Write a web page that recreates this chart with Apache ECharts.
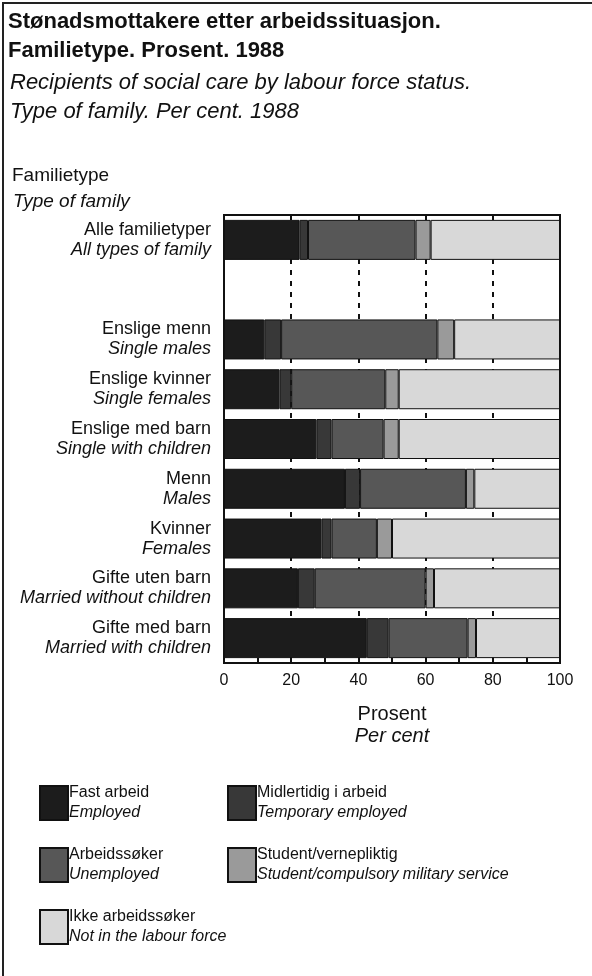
<!DOCTYPE html>
<html>
<head>
<meta charset="utf-8">
<script src="https://cdn.jsdelivr.net/npm/echarts@6/dist/echarts.min.js"></script>
<style>
  html, body { margin: 0; padding: 0; background: #fff; }
  #chart { width: 592px; height: 976px; }
</style>
</head>
<body>
<div id="chart"></div>
<script>
// family types, top to bottom ('' = empty spacer row)
const categories = ['Alle familietyper', '', 'Enslige menn', 'Enslige kvinner', 'Enslige med barn', 'Menn', 'Kvinner', 'Gifte uten barn', 'Gifte med barn'];
const categoriesEn = ['All types of family', '', 'Single males', 'Single females', 'Single with children', 'Males', 'Females', 'Married without children', 'Married with children'];

// per cent
const fastArbeid = [22.5, null, 12, 16.5, 27.5, 36, 29, 22, 42.5];
const midlertidig = [2.5, null, 5, 3.5, 4.5, 4.5, 3, 5, 6.5];
const arbeidssoker = [32, null, 46.5, 28, 15.5, 31.5, 13.5, 33, 23.5];
const student = [4.5, null, 5, 4, 4.5, 2.5, 4.5, 2.5, 2.5];
const ikkeArbeidssoker = [38.5, null, 31.5, 48, 48, 25.5, 50, 37.5, 25];

const seriesNames = ['Fast arbeid', 'Midlertidig i arbeid', 'Arbeidssøker', 'Student/vernepliktig', 'Ikke arbeidssøker'];
const seriesNamesEn = ['Employed', 'Temporary employed', 'Unemployed', 'Student/compulsory military service', 'Not in the labour force'];
const seriesColors = ['#1c1c1c', '#383838', '#575757', '#9a9a9a', '#d8d8d8'];
const seriesData = [fastArbeid, midlertidig, arbeidssoker, student, ikkeArbeidssoker];

const font = 'Liberation Sans, Arial, sans-serif';

const chart = echarts.init(document.getElementById('chart'), null, { renderer: 'canvas' });

const legendRich = {
  a: { fontFamily: font, fontSize: 16, color: '#111', lineHeight: 20 },
  b: { fontFamily: font, fontSize: 16, fontStyle: 'italic', color: '#111', lineHeight: 20 }
};
function legendFmt(name) {
  const i = seriesNames.indexOf(name);
  return '{a|' + name + '}\n{b|' + seriesNamesEn[i] + '}';
}
const legendBase = {
  orient: 'vertical',
  itemWidth: 28,
  itemHeight: 34,
  itemGap: 26,
  icon: 'rect',
  selectedMode: false,
  formatter: legendFmt,
  textStyle: { padding: [0, 0, 0, -4], rich: legendRich }
};

const option = {
  backgroundColor: '#fff',
  animation: false,
  textStyle: { fontFamily: font },
  graphic: [
    { type: 'polyline', shape: { points: [[3, 976], [3, 3], [592, 3]] }, style: { stroke: '#222', lineWidth: 2, fill: null } },
    { type: 'text', left: 8, top: 11, style: { text: 'Stønadsmottakere etter arbeidssituasjon.', font: 'bold 22px ' + font, fill: '#111' } },
    { type: 'text', left: 8, top: 40, style: { text: 'Familietype. Prosent. 1988', font: 'bold 22px ' + font, fill: '#111' } },
    { type: 'text', left: 10, top: 72, style: { text: 'Recipients of social care by labour force status.', font: 'italic 22px ' + font, fill: '#111' } },
    { type: 'text', left: 10, top: 101, style: { text: 'Type of family. Per cent. 1988', font: 'italic 22px ' + font, fill: '#111' } },
    { type: 'text', left: 12, top: 166, style: { text: 'Familietype', font: '19px ' + font, fill: '#111' } },
    { type: 'text', left: 13, top: 192, style: { text: 'Type of family', font: 'italic 19px ' + font, fill: '#111' } }
  ],
  legend: [
    Object.assign({}, legendBase, { left: 34, top: 780, data: ['Fast arbeid', 'Arbeidssøker', 'Ikke arbeidssøker'] }),
    Object.assign({}, legendBase, { left: 222, top: 780, data: ['Midlertidig i arbeid', 'Student/vernepliktig'] })
  ],
  grid: { left: 224, top: 215, width: 336, height: 448, containLabel: false },
  xAxis: {
    type: 'value',
    min: 0,
    max: 100,
    interval: 20,
    name: '{a|Prosent}\n{b|Per cent}',
    nameLocation: 'middle',
    nameGap: 40,
    nameTextStyle: {
      rich: {
        a: { fontFamily: font, fontSize: 20, color: '#111', lineHeight: 22 },
        b: { fontFamily: font, fontSize: 20, fontStyle: 'italic', color: '#111', lineHeight: 22 }
      }
    },
    axisLine: { show: true, lineStyle: { color: '#111', width: 2 } },
    axisTick: { show: true, inside: true, length: 5, lineStyle: { color: '#111', width: 2 } },
    minorTick: { show: true, splitNumber: 2, length: 5, lineStyle: { color: '#111', width: 2 } },
    axisLabel: { fontFamily: font, fontSize: 16, color: '#111', margin: 10 },
    splitLine: { show: true, lineStyle: { color: '#111', width: 2, type: [5, 6] } }
  },
  yAxis: {
    type: 'category',
    data: categories,
    inverse: true,
    axisLine: { show: true, lineStyle: { color: '#111', width: 2 } },
    axisTick: { show: false },
    axisLabel: {
      margin: 13,
      formatter: function (value, index) {
        if (!value) return '';
        return '{a|' + value + '}\n{b|' + categoriesEn[index] + '}';
      },
      rich: {
        a: { fontFamily: font, fontSize: 18, color: '#111', lineHeight: 20, align: 'right' },
        b: { fontFamily: font, fontSize: 18, fontStyle: 'italic', color: '#111', lineHeight: 20, align: 'right' }
      }
    }
  },
  series: seriesNames.map(function (name, i) {
    return {
      name: name,
      type: 'bar',
      stack: 'total',
      barWidth: 40,
      data: seriesData[i],
      itemStyle: { color: seriesColors[i], borderColor: '#111', borderWidth: 1 }
    };
  })
};

// frame round the plot
option.graphic.push({
  type: 'rect',
  shape: { x: 224, y: 215, width: 336, height: 448 },
  style: { fill: null, stroke: '#111', lineWidth: 2 },
  z: 100
});

chart.setOption(option);
</script>
</body>
</html>
